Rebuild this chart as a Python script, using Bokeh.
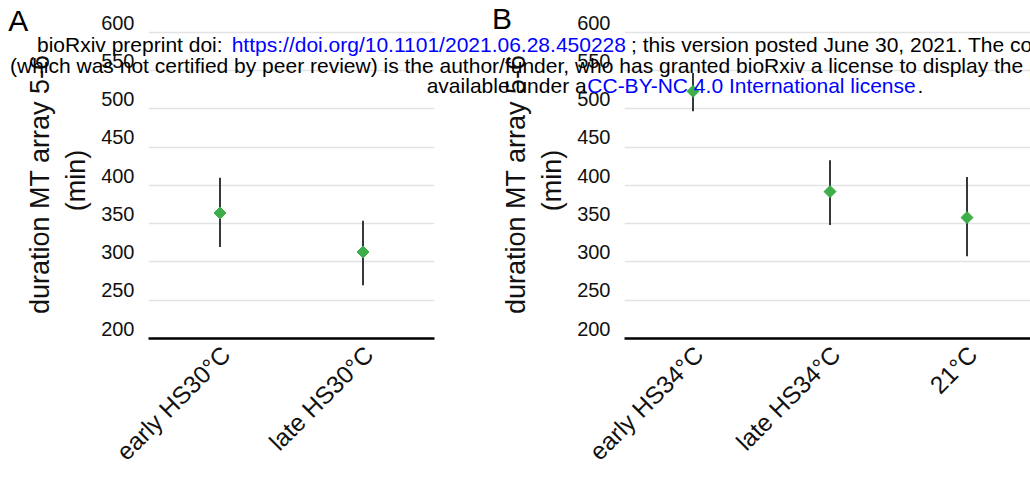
import math
from bokeh.plotting import figure
from bokeh.models import Range1d, FixedTicker, LinearAxis, Div, Grid
from bokeh.layouts import row
from bokeh.embed import file_html
from bokeh.resources import INLINE

# ---------------- data ----------------
cats_a = ["early HS30°C", "late HS30°C"]
mean_a = [364, 313]
low_a = [319.5, 269.5]
high_a = [410, 354]

cats_b = ["early HS34°C", "late HS34°C", "21°C"]
mean_b = [523, 392, 358]
low_b = [497, 348.5, 307.5]
high_b = [547, 433, 411]

y_ticks = [200, 250, 300, 350, 400, 450, 500, 550, 600]
y_label = "duration MT array 5-6 \n(min)"
panel_letters = ["A", "B"]

banner = [
    # (text, page x, page baseline y, colour)
    ("bioRxiv preprint doi: ", 37, 52, "black"),
    ("https://doi.org/10.1101/2021.06.28.450228", 231.7, 52, "blue"),
    ("; this version posted June 30, 2021. The copyright holder for this preprint", 631, 52, "black"),
    ("(which was not certified by peer review) is the author/funder, who has granted bioRxiv a license to display the preprint in perpetuity. It is made", 10, 72.5, "black"),
    ("available under a", 426.7, 93, "black"),
    ("CC-BY-NC 4.0 International license", 587.3, 93, "blue"),
    (".", 917.6, 93, "black"),
]

FONT = "Liberation Sans"
GREEN = "#3dae49"
BAR = "#383838"
YMIN, YMAX = 200, 600
Y_SHIFT = 13      # y-tick labels sit ~10 px above their grid lines (data units)
PX_PER_UNIT = 0.7725
TOP_PAD = Y_SHIFT * PX_PER_UNIT
FRAME_H = (YMAX - YMIN + Y_SHIFT) * PX_PER_UNIT
X_LABEL_SHIFT_PX = 6


def build(cats, means, lows, highs, band, width, left, right, top, fig_h):
    xs = [i + 1 for i in range(len(cats))]
    frame_w = width - left - right
    x_end = 0.5 + frame_w / band
    border_top = int(round(top - TOP_PAD))
    p = figure(x_range=Range1d(0.5, x_end), y_range=Range1d(YMIN, YMAX + Y_SHIFT),
               width=width, height=fig_h, output_backend="svg", toolbar_location=None,
               x_axis_location=None, y_axis_location=None,
               min_border_left=left, min_border_right=right,
               min_border_top=border_top,
               min_border_bottom=int(round(fig_h - border_top - FRAME_H)))
    p.outline_line_color = None
    for g in p.select(type=Grid):
        g.visible = False
    dx = X_LABEL_SHIFT_PX / band
    p.extra_x_ranges = {"xlab": Range1d(0.5 - dx, x_end - dx)}
    p.extra_y_ranges = {"ylab": Range1d(YMIN - Y_SHIFT, YMAX)}

    # horizontal grid lines on the data range
    p.add_layout(Grid(dimension=1, ticker=FixedTicker(ticks=y_ticks),
                      grid_line_color="#e3e3e3", grid_line_width=1.3))

    # y tick labels
    yax = LinearAxis(y_range_name="ylab", ticker=FixedTicker(ticks=y_ticks))
    yax.axis_line_color = None
    yax.major_tick_line_color = None
    yax.minor_tick_line_color = None
    yax.major_tick_out = 0
    yax.major_tick_in = 0
    yax.major_label_text_font = FONT
    yax.major_label_text_font_size = "20px"
    yax.major_label_text_color = "#111111"
    yax.major_label_standoff = 14
    p.add_layout(yax, "left")

    # y axis title
    ttl = LinearAxis(ticker=FixedTicker(ticks=[]))
    ttl.axis_line_color = None
    ttl.major_tick_line_color = None
    ttl.minor_tick_line_color = None
    ttl.major_tick_out = 0
    ttl.major_tick_in = 0
    ttl.major_label_standoff = 0
    ttl.axis_label = y_label
    ttl.axis_label_text_font = FONT
    ttl.axis_label_text_font_size = "27px"
    ttl.axis_label_text_font_style = "normal"
    ttl.axis_label_text_color = "#111111"
    ttl.axis_label_standoff = 8
    p.add_layout(ttl, "left")

    # x axis
    xax = LinearAxis(x_range_name="xlab", ticker=FixedTicker(ticks=xs))
    xax.major_label_overrides = {x: c for x, c in zip(xs, cats)}
    xax.axis_line_color = "black"
    xax.axis_line_width = 2.5
    xax.major_tick_line_color = None
    xax.minor_tick_line_color = None
    xax.major_tick_out = 0
    xax.major_tick_in = 0
    xax.major_label_orientation = math.pi / 4
    xax.major_label_text_font = FONT
    xax.major_label_text_font_size = "24.5px"
    xax.major_label_text_color = "#111111"
    xax.major_label_standoff = 12
    p.add_layout(xax, "below")

    p.segment(x0=xs, y0=lows, x1=xs, y1=highs, line_color=BAR, line_width=2)
    p.scatter(x=xs, y=means, marker="square", size=8.5, angle=math.pi / 4,
              fill_color=GREEN, line_color=GREEN)
    return p


pA = build(cats_a, mean_a, low_a, high_a, band=143, width=478, left=148, right=44,
           top=32.4, fig_h=479)
pB = build(cats_b, mean_b, low_b, high_b, band=137, width=552, left=146, right=0,
           top=29.3, fig_h=479)

# ---------------- overlay texts (panel letters + preprint banner) ----------------
def span(txt, x, baseline, size, color):
    top = baseline - 0.8465 * size
    return (f'<div style="position:absolute;left:{x}px;top:{top:.1f}px;'
            f'font-family:\'{FONT}\';font-size:{size}px;line-height:{size}px;'
            f'color:{color};white-space:pre;margin:0;padding:0;">{txt}</div>')

parts = [span(panel_letters[0], 8.3, 31.7, 30, "black"),
         span(panel_letters[1], 492, 29.3, 30, "black")]
for txt, px, py, col in banner:
    parts.append(span(txt, px, py, 21, col))
html = ('<div style="position:relative;width:1030px;height:479px;overflow:hidden;margin:0;padding:0;">'
        + "".join(parts) + "</div>")
overlay = Div(text=html, width=1030, height=479, margin=0,
              styles={"position": "absolute", "left": "0px", "top": "0px",
                      "z-index": "10", "pointer-events": "none"})

layout = row(pA, pB, overlay)
open("out.html", "w").write(file_html(layout, INLINE))
